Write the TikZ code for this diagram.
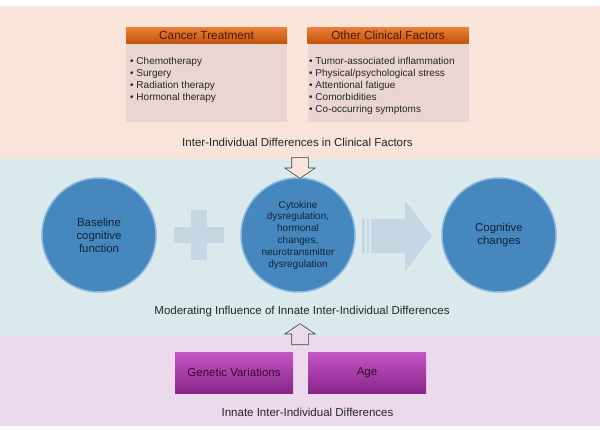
\documentclass[tikz,border=0pt]{standalone}
\usepackage{fontspec}
\setmainfont{Liberation Sans}
\usetikzlibrary{shapes.arrows}
\definecolor{peachband}{RGB}{248,228,217}
\definecolor{blueband}{RGB}{218,234,236}
\definecolor{pinkband}{RGB}{237,217,236}
\definecolor{headtop}{RGB}{236,128,56}
\definecolor{headbot}{RGB}{196,84,14}
\definecolor{headtext}{RGB}{70,28,6}
\definecolor{listfill}{RGB}{233,214,211}
\definecolor{bubblefill}{RGB}{70,135,190}
\definecolor{bubblerim}{RGB}{135,182,222}
\definecolor{bubbletext}{RGB}{14,36,60}
\definecolor{plusfill}{RGB}{198,214,226}
\definecolor{purptop}{RGB}{196,88,196}
\definecolor{purpmid}{RGB}{172,58,172}
\definecolor{purpbot}{RGB}{136,36,136}
\definecolor{purptext}{RGB}{52,10,52}
\begin{document}
\begin{tikzpicture}
		[x=1pt,y=-1pt,
		header/.style={rectangle,top color=headtop,bottom color=headbot,text=headtext,
minimum width=161pt,minimum height=16pt,inner sep=0pt,font=\fontsize{11.8}{13}\selectfont},
		listbox/.style={rectangle,fill=listfill,minimum width=161pt,minimum height=79pt,
inner sep=0pt,anchor=north},
		listtext/.style={anchor=north west,align=left,inner sep=0pt,text=black!85,
font=\fontsize{10}{12}\selectfont},
		bubble/.style={circle,fill=bubblefill,draw=bubblerim,line width=1.5pt,
minimum size=114pt,inner sep=0pt,align=center,text=bubbletext},
		hollow/.style={single arrow,draw=black!75,line width=0.6pt,minimum height=21pt,anchor=tail,
single arrow head extend=7pt,single arrow tip angle=112,inner xsep=8pt,inner ysep=0pt},
		genebox/.style={rectangle,top color=purptop,middle color=purpmid,bottom color=purpbot,
minimum width=118pt,minimum height=41pt,inner sep=0pt,text=purptext,font=\fontsize{11.5}{13}\selectfont},
		caption/.style={text=black!85,inner sep=0pt,font=\fontsize{11.5}{13}\selectfont}]
		\useasboundingbox (0,0) rectangle (600,431);
		\fill[peachband] (0,6) rectangle (600,159);
		\fill[blueband] (0,159) rectangle (600,336);
		\fill[pinkband] (0,336) rectangle (600,426);
		\node at (206.5,43) (cancerbody) [listbox] {};
		\node at (206.5,35) (cancer) [header] {Cancer Treatment};
		\node at (130,57.5) (cancerlist) [listtext] {• Chemotherapy\\• Surgery\\• Radiation therapy\\• Hormonal therapy};
		\node at (388,43) (otherbody) [listbox] {};
		\node at (388,35) (other) [header] {Other Clinical Factors};
		\node at (309,57.5) (otherlist) [listtext] {• Tumor-associated inflammation\\• Physical/psychological stress\\• Attentional fatigue\\• Comorbidities\\• Co-occurring symptoms};
		\node at (297.5,142) (clinical) [caption] {Inter-Individual Differences in Clinical Factors};
		\node at (99,235) (baseline) [bubble,font=\fontsize{11.4}{13}\selectfont] {Baseline\\cognitive\\function};
		\node at (298,235) (cytokine) [bubble,font=\fontsize{10}{11.8}\selectfont] {Cytokine\\dysregulation,\\hormonal\\changes,\\neurotransmitter\\dysregulation};
		\node at (499,235) (cognitive) [bubble,font=\fontsize{11.4}{13}\selectfont] {Cognitive\\changes};
		\fill[plusfill] (174,227) rectangle (224,243);
		\fill[plusfill] (191,210) rectangle (207,260);
		\fill[plusfill] (362,219) rectangle (364.5,253);
		\fill[plusfill] (366.5,219) rectangle (369,253);
		\node at (371,236) (flow) [single arrow,anchor=tail,fill=plusfill,minimum height=61pt,
single arrow head extend=18pt,single arrow tip angle=105,inner xsep=0pt,inner ysep=17pt] {};
		\node at (300,157) (down) [hollow,fill=peachband,shape border rotate=270] {};
		\node at (302,312) (moderating) [caption] {Moderating Influence of Innate Inter-Individual Differences};
		\node at (300,345) (up) [hollow,fill=pinkband,shape border rotate=90] {};
		\node at (234,372.5) (genetic) [genebox] {Genetic Variations};
		\node at (367,372.5) (age) [genebox] {Age};
		\node at (307.5,412) (innate) [caption] {Innate Inter-Individual Differences};
	\end{tikzpicture}
\end{document}
